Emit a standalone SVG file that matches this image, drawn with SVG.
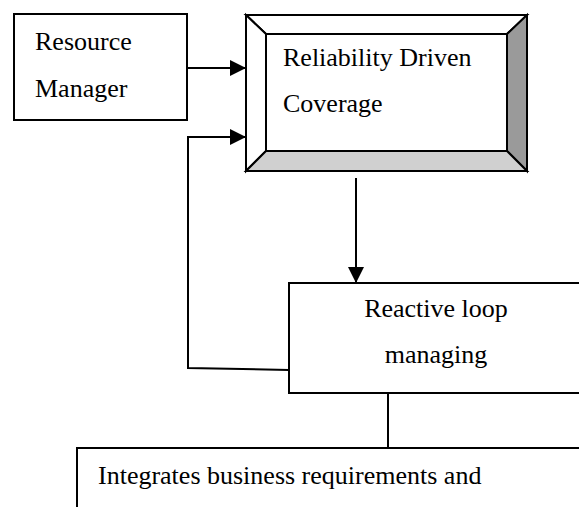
<svg xmlns="http://www.w3.org/2000/svg" width="579" height="507" viewBox="0 0 579 507">
  <style>
    .box { fill: #ffffff; stroke: #000000; stroke-width: 2; }
    .bevel { stroke: #000000; stroke-width: 2; stroke-linejoin: miter; }
    .lbl { font-family: "Liberation Serif", "Times New Roman", serif; font-size: 26px; fill: #000000; }
    .wire { fill: none; stroke: #000000; stroke-width: 2; }
  </style>
  <defs>
    <marker id="arrow" viewBox="0 0 16 16" refX="16" refY="8" markerWidth="16" markerHeight="16" markerUnits="userSpaceOnUse" orient="auto">
      <path d="M0,0 L16,8 L0,16 Z" fill="#000000"/>
    </marker>
  </defs>

  <g id="resource-manager">
    <rect class="box" x="14" y="14" width="173" height="106"/>
    <text class="lbl" x="35" y="50">Resource</text>
    <text class="lbl" x="35" y="97">Manager</text>
  </g>

  <g id="reliability-driven-coverage">
    <rect class="box" x="246" y="15" width="281" height="156"/>
    <!-- bevelled frame: top/left light, right dark, bottom mid -->
    <polygon class="bevel" fill="#ffffff" points="246,15 527,15 507,34 266,34"/>
    <polygon class="bevel" fill="#ffffff" points="246,15 266,34 266,151 246,171"/>
    <polygon class="bevel" fill="#9a9a9a" points="527,15 527,171 507,151 507,34"/>
    <polygon class="bevel" fill="#d0d0d0" points="246,171 266,151 507,151 527,171"/>
    <rect class="box" x="266" y="34" width="241" height="117"/>
    <text class="lbl" x="283" y="66">Reliability Driven</text>
    <text class="lbl" x="283" y="112">Coverage</text>
  </g>

  <g id="reactive-loop-managing">
    <rect class="box" x="289" y="283" width="320" height="110"/>
    <text class="lbl" x="436" y="317" text-anchor="middle">Reactive loop</text>
    <text class="lbl" x="436" y="363" text-anchor="middle">managing</text>
  </g>

  <g id="integrates-business">
    <rect class="box" x="77" y="448" width="540" height="80"/>
    <text class="lbl" x="98" y="484">Integrates business requirements and</text>
  </g>

  <g id="connectors">
    <line class="wire" x1="187" y1="68" x2="246" y2="68" marker-end="url(#arrow)"/>
    <polyline class="wire" points="289,370 188,368 188,137 246,137" marker-end="url(#arrow)"/>
    <line class="wire" x1="356" y1="178" x2="356" y2="283" marker-end="url(#arrow)"/>
    <line class="wire" x1="388" y1="393" x2="388" y2="448"/>
  </g>
</svg>
